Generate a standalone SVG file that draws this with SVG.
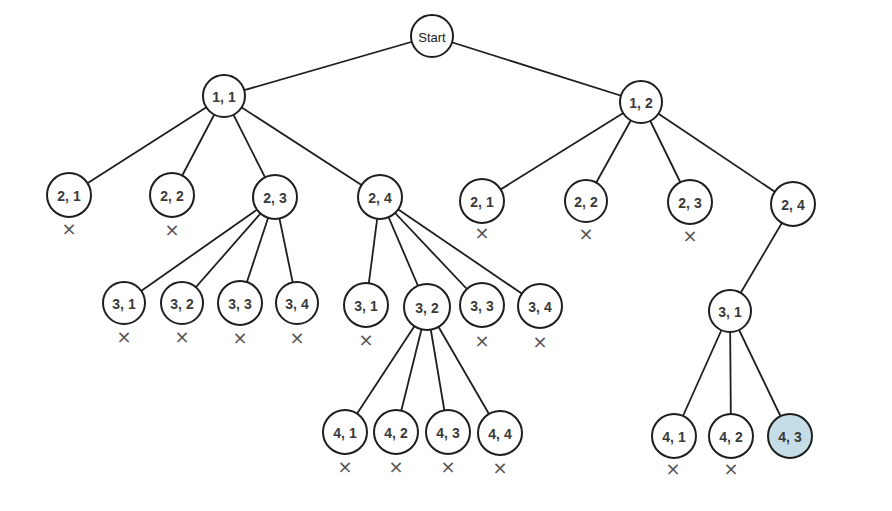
<svg xmlns="http://www.w3.org/2000/svg" width="892" height="511" viewBox="0 0 892 511">
<style>
.n{fill:#fff;stroke:#1e1e1e;stroke-width:2}
.g{fill:#c4dde7;stroke:#1e1e1e;stroke-width:2}
.t{font-family:"Liberation Sans",Arial,sans-serif;font-size:14px;font-weight:bold;fill:#3a3a3a;text-anchor:middle;dominant-baseline:central}
.s{font-family:"Liberation Sans",Arial,sans-serif;font-size:13px;fill:#222;text-anchor:middle;dominant-baseline:central}
.x{font-family:"DejaVu Sans",sans-serif;font-size:18px;fill:#555;text-anchor:middle;dominant-baseline:central}
.e{stroke:#1e1e1e;stroke-width:1.8;fill:none}
</style>
<rect width="892" height="511" fill="#fff"/>
<g id="connectors" class="e">
<line x1="432" y1="36" x2="224" y2="96"/>
<line x1="432" y1="36" x2="641" y2="102"/>
<line x1="224" y1="96" x2="69" y2="195"/>
<line x1="224" y1="96" x2="172" y2="195"/>
<line x1="224" y1="96" x2="275" y2="197"/>
<line x1="224" y1="96" x2="380" y2="197"/>
<line x1="275" y1="197" x2="124" y2="303"/>
<line x1="275" y1="197" x2="182" y2="303"/>
<line x1="275" y1="197" x2="240" y2="303"/>
<line x1="275" y1="197" x2="297" y2="303"/>
<line x1="380" y1="197" x2="366" y2="305"/>
<line x1="380" y1="197" x2="427" y2="307"/>
<line x1="380" y1="197" x2="482" y2="305"/>
<line x1="380" y1="197" x2="540" y2="306"/>
<line x1="427" y1="307" x2="345" y2="432"/>
<line x1="427" y1="307" x2="396" y2="432"/>
<line x1="427" y1="307" x2="448" y2="432"/>
<line x1="427" y1="307" x2="500" y2="433"/>
<line x1="641" y1="102" x2="482" y2="201"/>
<line x1="641" y1="102" x2="586" y2="201"/>
<line x1="641" y1="102" x2="690" y2="202"/>
<line x1="641" y1="102" x2="793" y2="204"/>
<line x1="793" y1="204" x2="730" y2="311"/>
<line x1="730" y1="311" x2="674" y2="436"/>
<line x1="730" y1="311" x2="731" y2="436"/>
<line x1="730" y1="311" x2="790" y2="436"/>
</g>
<g id="start"><circle class="n" cx="432" cy="36" r="21"/><text class="s" x="432" y="37">Start</text></g>
<g id="n11"><circle class="n" cx="224" cy="96" r="21"/><text class="t" x="224" y="97">1, 1</text></g>
<g id="n12"><circle class="n" cx="641" cy="102" r="21"/><text class="t" x="641" y="103">1, 2</text></g>
<g id="a21"><circle class="n" cx="69" cy="195" r="22"/><text class="t" x="69" y="196">2, 1</text><text class="x" x="69" y="228">×</text></g>
<g id="a22"><circle class="n" cx="172" cy="195" r="22"/><text class="t" x="172" y="196">2, 2</text><text class="x" x="172" y="229">×</text></g>
<g id="a23"><circle class="n" cx="275" cy="197" r="22"/><text class="t" x="275" y="198">2, 3</text></g>
<g id="a24"><circle class="n" cx="380" cy="197" r="22"/><text class="t" x="380" y="198">2, 4</text></g>
<g id="b31"><circle class="n" cx="124" cy="303" r="21"/><text class="t" x="124" y="304">3, 1</text><text class="x" x="124" y="336">×</text></g>
<g id="b32"><circle class="n" cx="182" cy="303" r="21"/><text class="t" x="182" y="304">3, 2</text><text class="x" x="182" y="336">×</text></g>
<g id="b33"><circle class="n" cx="240" cy="303" r="22"/><text class="t" x="240" y="304">3, 3</text><text class="x" x="240" y="337">×</text></g>
<g id="b34"><circle class="n" cx="297" cy="303" r="21"/><text class="t" x="297" y="304">3, 4</text><text class="x" x="297" y="337">×</text></g>
<g id="c31"><circle class="n" cx="366" cy="305" r="22"/><text class="t" x="366" y="306">3, 1</text><text class="x" x="366" y="339">×</text></g>
<g id="c32"><circle class="n" cx="427" cy="307" r="23"/><text class="t" x="427" y="308">3, 2</text></g>
<g id="c33"><circle class="n" cx="482" cy="305" r="22"/><text class="t" x="482" y="306">3, 3</text><text class="x" x="482" y="340">×</text></g>
<g id="c34"><circle class="n" cx="540" cy="306" r="22"/><text class="t" x="540" y="307">3, 4</text><text class="x" x="540" y="341">×</text></g>
<g id="d41"><circle class="n" cx="345" cy="432" r="22"/><text class="t" x="345" y="433">4, 1</text><text class="x" x="345" y="466">×</text></g>
<g id="d42"><circle class="n" cx="396" cy="432" r="22"/><text class="t" x="396" y="433">4, 2</text><text class="x" x="396" y="466">×</text></g>
<g id="d43"><circle class="n" cx="448" cy="432" r="22"/><text class="t" x="448" y="433">4, 3</text><text class="x" x="448" y="466">×</text></g>
<g id="d44"><circle class="n" cx="500" cy="433" r="22"/><text class="t" x="500" y="434">4, 4</text><text class="x" x="500" y="467">×</text></g>
<g id="e21"><circle class="n" cx="482" cy="201" r="22"/><text class="t" x="482" y="202">2, 1</text><text class="x" x="482" y="232">×</text></g>
<g id="e22"><circle class="n" cx="586" cy="201" r="21"/><text class="t" x="586" y="202">2, 2</text><text class="x" x="586" y="233">×</text></g>
<g id="e23"><circle class="n" cx="690" cy="202" r="22"/><text class="t" x="690" y="203">2, 3</text><text class="x" x="690" y="235">×</text></g>
<g id="e24"><circle class="n" cx="793" cy="204" r="22"/><text class="t" x="793" y="205">2, 4</text></g>
<g id="f31"><circle class="n" cx="730" cy="311" r="21"/><text class="t" x="730" y="312">3, 1</text></g>
<g id="h41"><circle class="n" cx="674" cy="436" r="22"/><text class="t" x="674" y="437">4, 1</text><text class="x" x="673" y="468">×</text></g>
<g id="h42"><circle class="n" cx="731" cy="436" r="22"/><text class="t" x="731" y="437">4, 2</text><text class="x" x="731" y="468">×</text></g>
<g id="h43"><circle class="g" cx="790" cy="436" r="22"/><text class="t" x="790" y="437">4, 3</text></g>
</svg>
